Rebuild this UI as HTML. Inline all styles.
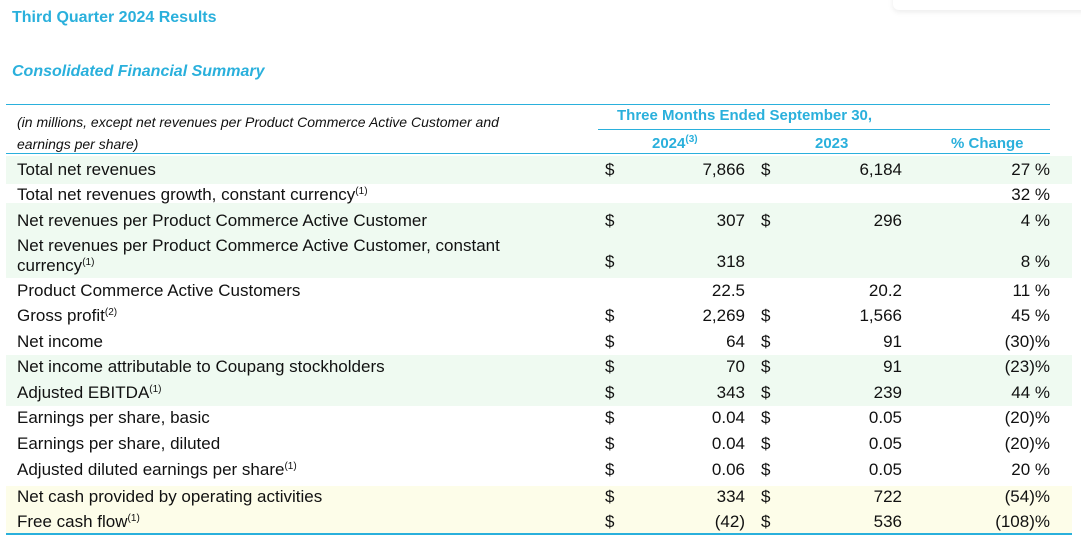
<!DOCTYPE html>
<html><head><meta charset="utf-8"><style>
body{margin:0;width:1081px;height:548px;background:#fff;position:relative;overflow:hidden;font-family:"Liberation Sans",Arial,sans-serif;color:#111;}
.a{position:absolute;white-space:nowrap;}
.t{font-size:17px;line-height:20px;}
.r{text-align:right;}
sup{font-size:10px;vertical-align:6px;line-height:0;}
.h{color:#2ab0dc;font-weight:bold;}
.line{position:absolute;background:#2ab0dc;}
</style></head><body>
<div class="a" style="left:893px;top:-10px;width:200px;height:20px;border-radius:6px;box-shadow:0 2px 6px rgba(0,0,0,0.08);background:#fff"></div>
<div class="a h" style="left:12px;top:9px;font-size:16px">Third Quarter 2024 Results</div>
<div class="a h" style="left:12px;top:63px;font-size:16px;font-style:italic">Consolidated Financial Summary</div>

<div class="a" style="left:6px;top:156px;width:1066px;height:28px;background:#effaf1"></div>
<div class="a" style="left:6px;top:203px;width:1066px;height:75px;background:#effaf1"></div>
<div class="a" style="left:6px;top:355px;width:1066px;height:51px;background:#effaf1"></div>
<div class="a" style="left:6px;top:486px;width:1066px;height:48px;background:#fdfde9"></div>

<div class="line" style="left:6px;top:104px;width:1044px;height:1px"></div>
<div class="line" style="left:598px;top:129px;width:452px;height:1px"></div>
<div class="line" style="left:6px;top:153px;width:1044px;height:1px"></div>
<div class="line" style="left:6px;top:533px;width:1066px;height:2px"></div>

<div class="a" style="left:17px;top:111px;font-size:14px;font-style:italic;line-height:22px">(in millions, except net revenues per Product Commerce Active Customer and<br>earnings per share)</div>
<div class="a h" style="left:617px;top:107px;font-size:15px">Three Months Ended September 30,</div>
<div class="a h" style="left:652px;top:135px;font-size:15px">2024<sup>(3)</sup></div>
<div class="a h" style="left:815px;top:135px;font-size:15px">2023</div>
<div class="a h" style="left:951px;top:135px;font-size:15px">% Change</div>

<div id="rows"></div>
<script>
const labels=["Total net revenues","Total net revenues growth, constant currency<sup>(1)</sup>","Net revenues per Product Commerce Active Customer","Net revenues per Product Commerce Active Customer, constant<br>currency<sup>(1)</sup>","Product Commerce Active Customers","Gross profit<sup>(2)</sup>","Net income","Net income attributable to Coupang stockholders","Adjusted EBITDA<sup>(1)</sup>","Earnings per share, basic","Earnings per share, diluted","Adjusted diluted earnings per share<sup>(1)</sup>","Net cash provided by operating activities","Free cash flow<sup>(1)</sup>"];
const values2024=["7,866","","307","318","22.5","2,269","64","70","343","0.04","0.04","0.06","334","(42)"];
const dollar2024=[1,0,1,1,0,1,1,1,1,1,1,1,1,1];
const values2023=["6,184","","296","","20.2","1,566","91","91","239","0.05","0.05","0.05","722","536"];
const dollar2023=[1,0,1,0,0,1,1,1,1,1,1,1,1,1];
const changes=["27 %","32 %","4 %","8 %","11 %","45 %","(30)%","(23)%","44 %","(20)%","(20)%","20 %","(54)%","(108)%"];
const centers=[170,195,221,262,291,316,342,367,393,418,444,470,497,522];
const root=document.getElementById('rows');
function add(html,left,top,cls,name,width){
  const d=document.createElement('div');
  d.className='a t '+cls;
  d.innerHTML=html;
  d.style.left=left+'px';d.style.top=top+'px';
  if(width)d.style.width=width+'px';
  
  
  root.appendChild(d);
}
labels.forEach((l,i)=>{
  const c=centers[i];
  if(i===3) add(l,17,236,'','row-label');
  else add(l,17,c-10,'','row-label');
  if(dollar2024[i]) add('$',605,c-10,'','dollar-2024');
  if(values2024[i]) add(values2024[i],645,c-10,'r','value-2024',100);
  if(dollar2023[i]) add('$',761,c-10,'','dollar-2023');
  if(values2023[i]) add(values2023[i],802,c-10,'r','value-2023',100);
  add(changes[i],948,c-10,'r','percent-change',102);
});
</script>
</body></html>
